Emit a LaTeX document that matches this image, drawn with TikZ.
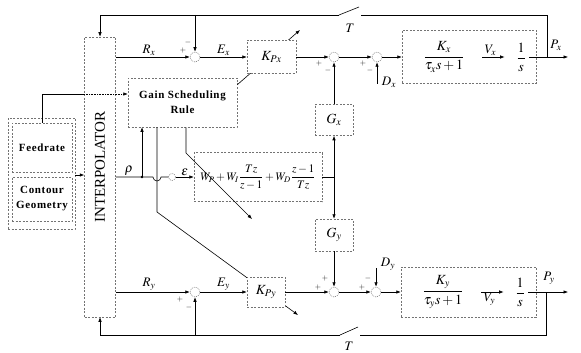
\documentclass[tikz,border=0pt]{standalone}
\usepackage{amsmath}
\usepackage{mathptmx}
\usepackage{fontspec}
\setmainfont{Liberation Serif}
\newfontfamily\boxfont[LetterSpace=6]{Liberation Serif}
\usetikzlibrary{arrows.meta}

\begin{document}
\begin{tikzpicture}[x=1pt, y=-1pt,
    line width=0.6pt,
    dbox/.style={draw=black!55, dash pattern=on 2pt off 1.5pt, line width=0.5pt, inner sep=0pt},
    sum/.style={circle, draw=black!55, dash pattern=on 1pt off 1pt, line width=0.5pt,
                minimum size=10pt, inner sep=0pt},
    arr/.style={-{Latex[length=4.5pt, width=3.5pt]}},
    lab/.style={font=\fontsize{13}{15}\selectfont, inner sep=1pt},
    big/.style={font=\fontsize{14}{16}\selectfont},
    sgn/.style={font=\footnotesize, inner sep=0pt},
    txt/.style={font=\boxfont\bfseries\fontsize{11}{15}\selectfont, align=center}]
  \useasboundingbox (0,0) rectangle (581,353);

  % interpolator and its inputs
  \node[dbox, minimum width=31, minimum height=280] (interp) at (100,177) {};
  \node[rotate=90, font=\fontsize{15}{17}\selectfont] (interplab) at (100,167) {INTERPOLATOR};
  \node[dbox, minimum width=67, minimum height=111] (src) at (41.5,173.5) {};
  \node[dbox, txt, minimum width=60, minimum height=49] (feed) at (42,147.5) {Feedrate};
  \node[dbox, txt, minimum width=60, minimum height=44] (geom) at (42,199) {Contour\\Geometry};
  \node[dbox, txt, minimum width=109, minimum height=49] (gain) at (182.5,102.5) {Gain Scheduling\\Rule};
  \draw[arr] (src.east |- 0,175) -- (interp.west |- 0,175);
  \draw (feed.north) |- (interp.west |- 0,94);
  \draw[arr, densely dotted] (interp.west |- 0,94) -- ([yshift=8.5pt]gain.west);

  % scheduled gains (behind the gain blocks)
  \coordinate (hopx) at (157,212);
  \coordinate (wbend) at (186,153);
  \coordinate (kpxarr) at (300,30);
  \coordinate (warr) at (252,219);
  \coordinate (kpyarr) at (298,315);
  \draw[arr] ([yshift=-7pt]gain.north east) -- (kpxarr);
  \draw[arr] (hopx |- gain.south) -- (hopx) -- (kpyarr);

  % x axis
  \node[sum] (sx1) at (195,57) {};
  \node[dbox, big, fill=white, minimum width=49, minimum height=33] (kpx) at (271.5,57) {$K_{Px}$};
  \node[sum] (sx2) at (334,57) {};
  \node[sum] (sx3) at (377,57) {};
  \node[dbox, minimum width=134, minimum height=53] (plantx) at (469,57) {};
  \node[big] (tfx) at (444,57) {$\dfrac{K_x}{\tau_x s+1}$};
  \node[big] (intx) at (521,57) {$\dfrac{1}{s}$};
  \coordinate (tapx) at (547,57);
  \coordinate (outx) at (568,57);
  \coordinate (dx) at (377,84);
  \node[dbox, big, minimum width=38, minimum height=31] (gx) at (334,120) {$G_x$};

  \draw[arr] (interp.east |- sx1) -- node[lab, above, pos=0.45] {$R_x$} (sx1);
  \draw[arr] (sx1) -- node[lab, above] {$E_x$} (kpx);
  \draw[arr] (kpx) -- (sx2);
  \draw[arr] (sx2) -- (sx3);
  \draw[arr] (sx3) -- (plantx);
  \draw[arr] (dx) -- (sx3);
  \draw[arr] (gx) -- (sx2);
  \draw[arr, shorten <=14pt, shorten >=8pt] (tfx) -- node[lab, above] {$V_x$} (intx);
  \draw[arr] (intx.east) -- (outx);
  \node[lab] (pxlab) at (556,45) {$P_x$};
  \node[lab] (dxlab) at (389,82) {$D_x$};
  \node[sgn] at (183,51) {$+$};
  \node[sgn] at (188,43) {$-$};
  \node[sgn] at (319,64) {$+$};
  \node[sgn] at (328,71) {$-$};
  \node[sgn] at (363,64) {$+$};
  \node[sgn] at (370,71) {$-$};

  % top feedback with sampler
  \coordinate (swxR) at (361,15);
  \coordinate (swxL) at (339,15);
  \draw (tapx) |- (swxR);
  \draw (swxL) -- ++(20,-8);
  \draw[arr] (swxL) -| (interp.north);
  \draw[arr] (sx1 |- swxL) -- (sx1);
  \node[lab] (tx) at (350,28) {$T$};

  % controller
  \node[dbox, minimum width=128, minimum height=49, font=\fontsize{11.5}{14}\selectfont] (wblk) at (258,177)
    {$W_P + W_I\dfrac{Tz}{z-1} + W_D\dfrac{z-1}{Tz}$};
  \draw[arr] (wbend |- gain.south) -- (wbend) -- (warr);
  \coordinate (wsplit) at (334,177);
  \coordinate (rhojn) at (142,177);
  \node[sum, minimum size=7pt] (epsjn) at (172,177) {};
  \draw (interp.east |- rhojn) -- node[lab, above] {$\rho$} (rhojn) -- (153,177)
    arc[start angle=180, end angle=0, radius=4] -- (epsjn);
  \fill (rhojn) circle (1.3);
  \draw[arr] (rhojn) -- (rhojn |- gain.south);
  \draw[arr] (epsjn) -- node[lab, above] {$\varepsilon$} (wblk);
  \draw (wblk) -- (wsplit);
  \draw[arr] (wsplit) -- (gx);

  % y axis
  \node[dbox, big, minimum width=38, minimum height=32] (gy) at (334,235) {$G_y$};
  \node[sum] (sy1) at (195,292) {};
  \node[dbox, big, fill=white, minimum width=38, minimum height=30] (kpy) at (266,292) {$K_{Py}$};
  \node[sum] (sy2) at (334,292) {};
  \node[sum] (sy3) at (376,292) {};
  \node[dbox, minimum width=135, minimum height=50] (planty) at (468.5,292) {};
  \node[big] (tfy) at (443,292) {$\dfrac{K_y}{\tau_y s+1}$};
  \node[big] (inty) at (520,292) {$\dfrac{1}{s}$};
  \coordinate (tapy) at (546,292);
  \coordinate (outy) at (568,292);
  \coordinate (dy) at (376,268);

  \draw[arr] (wsplit) -- (gy);
  \draw[arr] (interp.east |- sy1) -- node[lab, above, pos=0.45] {$R_y$} (sy1);
  \draw[arr] (sy1) -- node[lab, above] {$E_y$} (kpy);
  \draw[arr] (kpy) -- (sy2);
  \draw[arr] (gy) -- (sy2);
  \draw[arr] (sy2) -- (sy3);
  \draw[arr] (dy) -- (sy3);
  \draw[arr] (sy3) -- (planty);
  \draw[arr, shorten <=14pt, shorten >=8pt] (tfy) -- node[lab, below] {$V_y$} (inty);
  \draw[arr] (inty.east) -- (outy);
  \node[lab] (pylab) at (549,278) {$P_y$};
  \node[lab] (dylab) at (388,264) {$D_y$};
  \node[sgn] at (180,299) {$+$};
  \node[sgn] at (189,307) {$-$};
  \node[sgn] at (318,287) {$+$};
  \node[sgn] at (325,278) {$+$};
  \node[sgn] at (362,287) {$+$};
  \node[sgn] at (368,278) {$-$};

  % bottom feedback with sampler
  \coordinate (swyR) at (360,335);
  \coordinate (swyL) at (340,335);
  \draw (tapy) |- (swyR);
  \draw (swyL) -- ++(18,-8);
  \draw[arr] (swyL) -| (interp.south);
  \draw[arr] (sy1 |- swyL) -- (sy1);
  \node[lab] (ty) at (349,346) {$T$};
\end{tikzpicture}
\end{document}
